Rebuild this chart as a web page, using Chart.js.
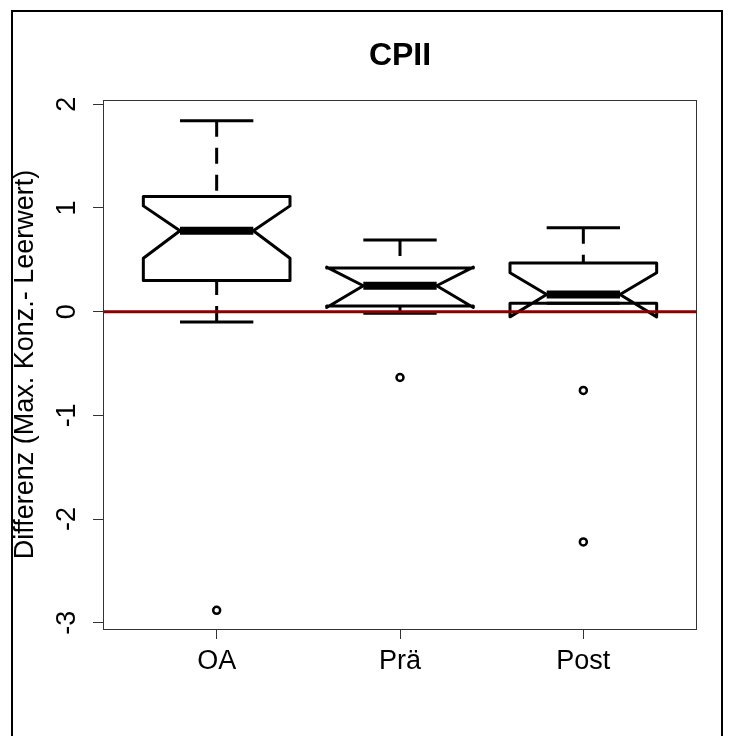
<!DOCTYPE html>
<html>
<head>
<meta charset="utf-8">
<script src="https://cdn.jsdelivr.net/npm/chart.js@4.4.1/dist/chart.umd.min.js"></script>
<style>
	body { margin: 0; background: #fff; overflow: hidden; }
	#wrap { position: relative; width: 732px; height: 736px; }
</style>
</head>
<body>
<div id="wrap"><canvas id="myChart"></canvas></div>
<script>
	// Gruppen und Boxplot-Kennwerte
	var categories  = ['OA', 'Prä', 'Post'];
	var whiskerLow  = [-0.10, -0.015, 0.08];
	var q1          = [0.30, 0.055, 0.08];
	var median      = [0.78, 0.25, 0.165];
	var q3          = [1.11, 0.42, 0.47];
	var whiskerHigh = [1.84, 0.69, 0.81];
	var notchLow    = [0.515, 0.04, -0.05];
	var notchHigh   = [1.02, 0.43, 0.375];
	var outliersOA   = [-2.88];
	var outliersPrae = [-0.635];
	var outliersPost = [-0.76, -2.22];
	var yTicks = [-3, -2, -1, 0, 1, 2];
	var xTicks = [1, 2, 3];

	var FONT = "'Liberation Sans', Arial, sans-serif";

	var outlierPoints = [];
	[outliersOA, outliersPrae, outliersPost].forEach(function(list, i) {
		list.forEach(function(v) { outlierPoints.push({x: i + 1, y: v}); });
	});

	// Notch-Boxen wie in R zeichnen (boxwex 0.8, notch.frac 0.5)
	var boxPlugin = {
		id: 'boxes',
		beforeDatasetsDraw: function(chart) {
			var c = chart.ctx, xs = chart.scales.x, ys = chart.scales.y;
			var wex = 0.4, nf = 0.5, sw = 0.2;
			c.save();
			c.strokeStyle = '#000';
			c.lineJoin = 'round';
			for (var i = 0; i < categories.length; i++) {
				var x = i + 1;
				var px = xs.getPixelForValue(x);
				// whiskers (gestrichelt, vom Ende zur Box)
				c.lineWidth = 3;
				c.setLineDash([16, 11]);
				c.beginPath();
				c.moveTo(px, ys.getPixelForValue(whiskerHigh[i]));
				c.lineTo(px, ys.getPixelForValue(q3[i]));
				c.moveTo(px, ys.getPixelForValue(whiskerLow[i]));
				c.lineTo(px, ys.getPixelForValue(q1[i]));
				c.stroke();
				c.setLineDash([]);
				// staples
				c.beginPath();
				c.moveTo(xs.getPixelForValue(x - sw), ys.getPixelForValue(whiskerHigh[i]));
				c.lineTo(xs.getPixelForValue(x + sw), ys.getPixelForValue(whiskerHigh[i]));
				c.moveTo(xs.getPixelForValue(x - sw), ys.getPixelForValue(whiskerLow[i]));
				c.lineTo(xs.getPixelForValue(x + sw), ys.getPixelForValue(whiskerLow[i]));
				c.stroke();
				// box mit notch
				var pts = [
					[x - wex, q1[i]], [x - wex, notchLow[i]], [x - nf * wex, median[i]],
					[x - wex, notchHigh[i]], [x - wex, q3[i]], [x + wex, q3[i]],
					[x + wex, notchHigh[i]], [x + nf * wex, median[i]], [x + wex, notchLow[i]],
					[x + wex, q1[i]]
				];
				c.beginPath();
				pts.forEach(function(p, k) {
					var X = xs.getPixelForValue(p[0]), Y = ys.getPixelForValue(p[1]);
					if (k === 0) c.moveTo(X, Y); else c.lineTo(X, Y);
				});
				c.closePath();
				c.stroke();
				// median
				c.lineWidth = 8;
				c.lineCap = 'butt';
				c.beginPath();
				c.moveTo(xs.getPixelForValue(x - nf * wex), ys.getPixelForValue(median[i]));
				c.lineTo(xs.getPixelForValue(x + nf * wex), ys.getPixelForValue(median[i]));
				c.stroke();
			}
			c.restore();
		},
		afterDraw: function(chart) {
			var c = chart.ctx, a = chart.chartArea, ys = chart.scales.y;
			c.save();
			// Plot-Rahmen
			c.strokeStyle = '#333';
			c.lineWidth = 1;
			c.strokeRect(a.left + 0.5, a.top + 0.5, a.right - a.left - 1, a.bottom - a.top);
			// gedrehte y-Tick-Beschriftung wie in R
			c.fillStyle = '#000';
			c.font = '27px ' + FONT;
			c.textAlign = 'center';
			c.textBaseline = 'middle';
			yTicks.forEach(function(v) {
				c.save();
				c.translate(68, ys.getPixelForValue(v));
				c.rotate(-Math.PI / 2);
				c.fillText(String(v), 0, 0);
				c.restore();
			});
			// äußerer Rahmen
			c.strokeStyle = '#000';
			c.lineWidth = 2;
			c.beginPath();
			c.moveTo(12, 740);
			c.lineTo(12, 11);
			c.lineTo(722, 11);
			c.lineTo(722, 740);
			c.stroke();
			c.restore();
		}
	};

	var ctx = document.getElementById("myChart").getContext('2d');

	myChart = new Chart(ctx, {
		type: 'scatter',
		data: {
			datasets: [{
				label: 'Nulllinie',
				data: [{x: 0.38, y: 0}, {x: 3.62, y: 0}],
				showLine: true,
				borderColor: 'rgb(139,0,0)',
				borderWidth: 3,
				pointRadius: 0,
				order: 0
			}, {
				label: 'Ausreißer',
				data: outlierPoints,
				pointStyle: 'circle',
				pointRadius: 3.5,
				borderWidth: 2.5,
				borderColor: '#000',
				backgroundColor: '#fff',
				order: 1
			}]
		},
		options: {
			responsive: true,
			maintainAspectRatio: false,
			animation: false,
			layout: { padding: { left: 0, right: 35, top: 0, bottom: 0 } },
			plugins: {
				legend: { display: false },
				tooltip: { enabled: false },
				title: {
					display: true,
					text: 'CPII',
					fullSize: false,
					color: '#000',
					font: { family: FONT, size: 32, weight: 'bold', lineHeight: 1.2 },
					padding: { top: 37, bottom: 24.6 }
				}
			},
			scales: {
				x: {
					type: 'linear',
					min: 0.38,
					max: 3.62,
					afterBuildTicks: function(s) { s.ticks = xTicks.map(function(v) { return {value: v}; }); },
					afterFit: function(s) { s.height = 107; },
					border: { display: false },
					grid: { drawOnChartArea: false, drawTicks: true, tickLength: 10, color: '#333' },
					ticks: {
						color: '#000',
						padding: 6,
						maxRotation: 0,
						autoSkip: false,
						font: { family: FONT, size: 27 },
						callback: function(v) { return categories[v - 1]; }
					}
				},
				y: {
					min: -3.06,
					max: 2.041,
					afterBuildTicks: function(s) { s.ticks = yTicks.map(function(v) { return {value: v}; }); },
					afterFit: function(s) { s.width = 103; },
					border: { display: false },
					grid: { drawOnChartArea: false, drawTicks: true, tickLength: 10, color: '#333' },
					ticks: { display: false },
					title: {
						display: true,
						text: 'Differenz (Max. Konz.- Leerwert)',
						color: '#000',
						font: { family: FONT, size: 27, lineHeight: 1.2 },
						padding: { top: 9, bottom: 0 }
					}
				}
			}
		},
		plugins: [boxPlugin]
	});
</script>
</body>
</html>
